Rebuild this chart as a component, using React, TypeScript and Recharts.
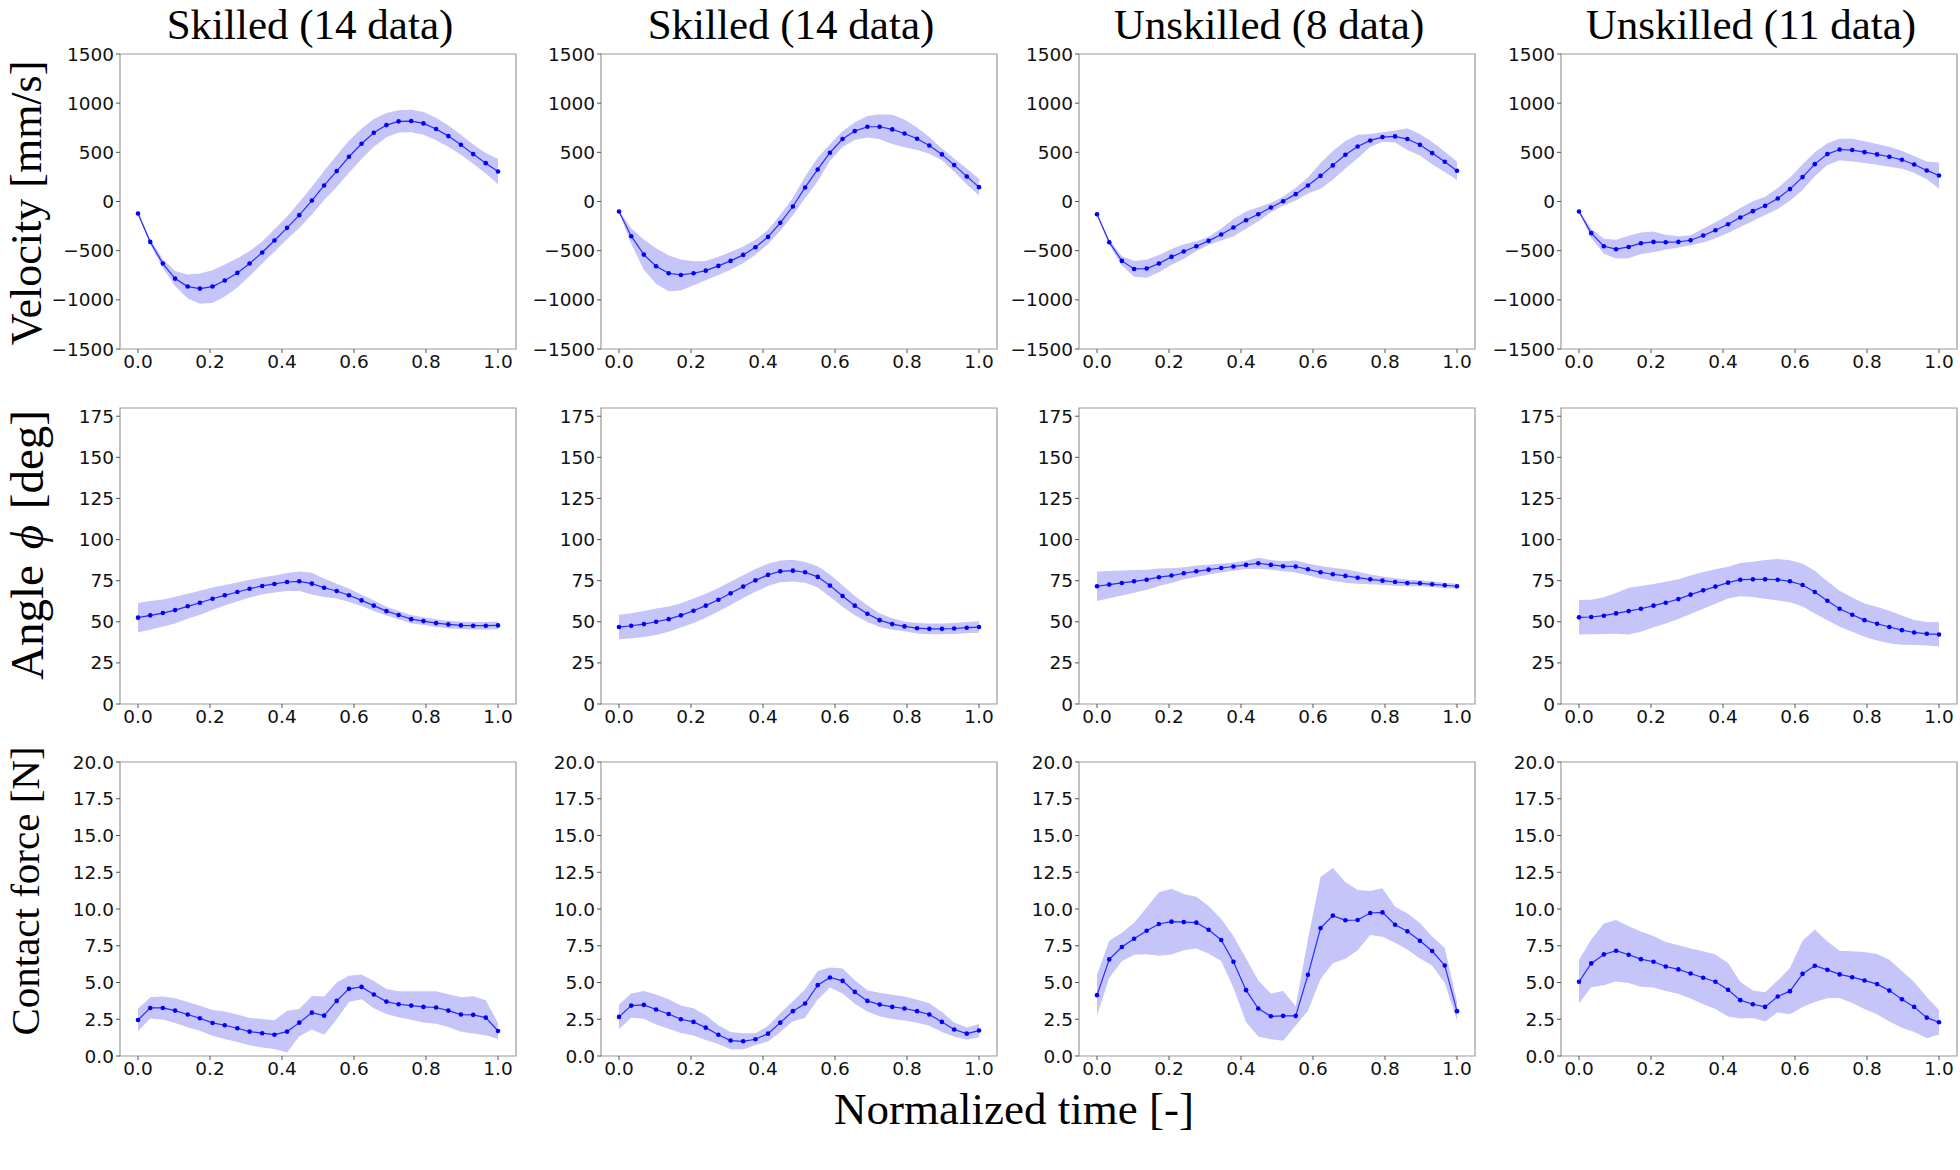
import React from "react";
import { ComposedChart, Area, Line, XAxis, YAxis, ReferenceArea } from "recharts";

// normalized time samples (30 points)
const TIME = [
  0, 0.034, 0.069, 0.103, 0.138, 0.172, 0.207, 0.241, 0.276, 0.31,
  0.345, 0.379, 0.414, 0.448, 0.483, 0.517, 0.552, 0.586, 0.621, 0.655,
  0.69, 0.724, 0.759, 0.793, 0.828, 0.862, 0.897, 0.931, 0.966, 1.0,
];

const X_TICKS = [0, 0.2, 0.4, 0.6, 0.8, 1.0];
const VEL_TICKS = [-1500, -1000, -500, 0, 500, 1000, 1500];
const ANGLE_TICKS = [0, 25, 50, 75, 100, 125, 150, 175];
const FORCE_TICKS = [0, 2.5, 5, 7.5, 10, 12.5, 15, 17.5, 20];

const COLUMN_TITLES = ["Skilled (14 data)", "Skilled (14 data)", "Unskilled (8 data)", "Unskilled (11 data)"];

// Velocity [mm/s]
const VEL_SK1_MEAN = [-122, -411, -631, -784, -865, -886, -865, -804, -726, -631, -519, -397, -268, -139, 10, 163, 309, 455, 587, 699, 777, 815, 818, 794, 737, 665, 577, 482, 390, 305];
const VEL_SK1_SD = [15, 25, 45, 76, 122, 154, 166, 163, 148, 127, 112, 114, 115, 131, 141, 149, 161, 163, 156, 141, 124, 114, 114, 115, 114, 107, 102, 98, 104, 129];
const VEL_SK2_MEAN = [-102, -353, -540, -658, -730, -747, -730, -703, -655, -604, -543, -465, -360, -217, -51, 143, 326, 496, 635, 716, 760, 760, 733, 692, 638, 570, 479, 370, 255, 146];
const VEL_SK2_SD = [7, 80, 153, 182, 182, 158, 122, 97, 92, 90, 85, 76, 73, 81, 88, 110, 119, 85, 80, 90, 110, 127, 148, 141, 114, 85, 59, 68, 81, 85];
const VEL_UN8_MEAN = [-129, -414, -604, -686, -682, -631, -563, -509, -455, -400, -336, -265, -190, -129, -61, 3, 75, 163, 261, 367, 475, 560, 621, 655, 662, 635, 577, 492, 404, 312];
const VEL_UN8_SD = [10, 25, 48, 80, 93, 88, 81, 75, 51, 41, 61, 88, 88, 71, 48, 46, 64, 81, 131, 146, 139, 119, 66, 48, 61, 110, 110, 112, 104, 93];
const VEL_UN11_MEAN = [-102, -322, -455, -485, -462, -424, -411, -414, -411, -394, -346, -292, -231, -163, -98, -44, 31, 126, 248, 380, 482, 529, 523, 502, 479, 455, 424, 377, 316, 265];
const VEL_UN11_SD = [10, 48, 76, 95, 114, 110, 105, 75, 58, 51, 71, 81, 90, 97, 100, 93, 107, 119, 132, 122, 110, 109, 115, 110, 105, 102, 92, 85, 90, 132];

// Angle phi [deg]
const ANG_SK1_MEAN = [52.5, 53.9, 55.3, 57.1, 59.4, 61.6, 64.0, 66.1, 68.1, 70.1, 71.8, 73.0, 74.2, 74.6, 73.2, 70.7, 68.7, 66.1, 63.0, 59.8, 56.5, 54.1, 51.6, 50.4, 49.2, 48.4, 47.8, 47.6, 47.6, 47.8];
const ANG_SK1_SD = [8.9, 8.7, 8.2, 8.1, 7.6, 7.3, 6.9, 6.2, 5.8, 5.4, 5.1, 5.2, 5.5, 5.9, 6.6, 5.6, 4.5, 4.1, 3.4, 3.3, 2.7, 2.5, 2.5, 2.4, 2.4, 2.3, 2.2, 2.3, 2.3, 2.3];
const ANG_SK2_MEAN = [46.8, 47.6, 48.6, 50.0, 51.6, 53.9, 56.7, 59.8, 63.4, 67.3, 71.4, 75.2, 78.5, 80.7, 81.1, 80.1, 77.3, 72.0, 65.7, 59.8, 54.9, 51.0, 48.6, 47.2, 46.1, 45.7, 45.7, 45.9, 46.4, 46.8];
const ANG_SK2_SD = [7.4, 7.6, 7.9, 8.0, 7.7, 7.4, 7.5, 7.3, 7.1, 7.1, 6.9, 6.9, 6.8, 6.6, 6.6, 6.3, 6.4, 6.8, 6.5, 5.9, 5.1, 4.1, 3.5, 3.0, 3.2, 3.3, 3.3, 3.3, 3.4, 3.5];
const ANG_UN8_MEAN = [71.6, 72.6, 73.6, 74.6, 75.6, 77.1, 78.1, 79.5, 80.7, 81.7, 82.7, 83.6, 84.6, 85.6, 84.6, 83.8, 83.6, 81.9, 80.1, 78.9, 77.9, 76.8, 75.8, 75.0, 74.2, 73.6, 73.4, 72.8, 72.2, 71.6];
const ANG_UN8_SD = [8.9, 8.3, 7.6, 6.9, 6.1, 5.3, 4.5, 3.7, 3.5, 3.0, 2.8, 2.5, 2.5, 3.3, 3.0, 3.0, 3.6, 3.6, 3.8, 4.0, 4.1, 3.6, 3.0, 2.5, 2.3, 2.0, 1.8, 1.7, 1.6, 1.5];
const ANG_UN11_MEAN = [52.7, 52.9, 53.7, 55.1, 56.5, 57.9, 59.8, 61.6, 63.8, 66.5, 69.1, 71.4, 73.8, 75.6, 75.8, 75.8, 75.6, 74.6, 72.4, 68.1, 62.8, 57.9, 54.3, 51.0, 48.8, 46.8, 44.9, 43.5, 42.7, 42.3];
const ANG_UN11_SD = [10.5, 10.5, 11.2, 12.4, 14.2, 13.9, 13.2, 12.7, 12.1, 11.7, 11.2, 10.5, 9.7, 10.1, 10.7, 11.8, 12.6, 12.8, 13.1, 13.0, 11.9, 10.9, 10.4, 10.1, 10.2, 9.9, 8.9, 7.6, 7.2, 7.4];

// Contact force [N]
const FRC_SK1_MEAN = [2.45, 3.27, 3.27, 3.09, 2.82, 2.57, 2.25, 2.09, 1.89, 1.66, 1.55, 1.45, 1.66, 2.27, 2.95, 2.75, 3.75, 4.57, 4.7, 4.18, 3.7, 3.52, 3.43, 3.34, 3.3, 3.09, 2.82, 2.8, 2.61, 1.7];
const FRC_SK1_SD = [0.76, 0.72, 0.78, 0.84, 0.86, 0.85, 0.88, 0.93, 0.93, 0.93, 0.97, 0.98, 1.42, 0.93, 1.14, 1.3, 1.25, 0.89, 0.84, 0.93, 0.85, 0.88, 0.97, 1.06, 1.11, 1.11, 1.17, 1.27, 1.19, 0.55];
const FRC_SK2_MEAN = [2.66, 3.43, 3.48, 3.16, 2.86, 2.5, 2.32, 1.93, 1.45, 1.05, 1.0, 1.14, 1.52, 2.27, 3.05, 3.57, 4.82, 5.34, 5.11, 4.36, 3.75, 3.5, 3.34, 3.23, 3.05, 2.82, 2.32, 1.8, 1.52, 1.73];
const FRC_SK2_SD = [0.84, 0.83, 0.94, 1.02, 1.0, 0.93, 0.93, 0.85, 0.64, 0.59, 0.55, 0.4, 0.53, 0.63, 0.68, 0.97, 0.97, 0.68, 0.85, 0.8, 0.73, 0.8, 0.83, 0.82, 0.78, 0.76, 0.68, 0.48, 0.42, 0.45];
const FRC_UN8_MEAN = [4.14, 6.57, 7.41, 7.98, 8.52, 8.98, 9.14, 9.11, 9.07, 8.59, 7.89, 6.41, 4.48, 3.23, 2.7, 2.73, 2.73, 5.52, 8.7, 9.55, 9.23, 9.25, 9.73, 9.77, 8.93, 8.48, 7.84, 7.14, 6.16, 3.05];
const FRC_UN8_SD = [1.39, 1.27, 0.97, 1.09, 1.59, 2.16, 2.23, 1.91, 1.76, 1.61, 1.43, 1.76, 2.16, 1.9, 1.56, 1.7, 0.66, 2.44, 3.47, 3.24, 2.61, 2.05, 1.5, 1.65, 1.23, 1.23, 1.2, 0.99, 1.19, 0.63];
const FRC_UN11_MEAN = [5.05, 6.3, 6.91, 7.16, 6.89, 6.59, 6.41, 6.09, 5.89, 5.61, 5.32, 5.05, 4.5, 3.8, 3.52, 3.34, 4.05, 4.41, 5.59, 6.14, 5.86, 5.55, 5.36, 5.14, 4.89, 4.45, 3.86, 3.34, 2.61, 2.3];
const FRC_UN11_SD = [1.48, 1.63, 2.1, 2.1, 1.93, 1.88, 1.75, 1.66, 1.65, 1.7, 1.8, 1.85, 1.82, 1.25, 0.94, 1.0, 1.08, 1.57, 2.25, 2.47, 1.93, 1.61, 1.76, 1.94, 2.05, 2.1, 1.93, 1.7, 1.4, 0.83];

const PLOT_LEFTS = [120, 601, 1079, 1561];
const PLOT_W = 396;
const Y_AXIS_W = 80;
const X_AXIS_H = 36;
const TOP_PAD = 14;

const fmtInt = (v: number) => (v < 0 ? "\u2212" + Math.abs(v) : String(v));
const fmtOne = (v: number) => v.toFixed(1);

const ROWS = [
  {
    label: "velocity",
    domain: [-1500, 1500],
    ticks: VEL_TICKS,
    fmt: fmtInt,
    top: 54,
    height: 295,
    series: [
      [VEL_SK1_MEAN, VEL_SK1_SD],
      [VEL_SK2_MEAN, VEL_SK2_SD],
      [VEL_UN8_MEAN, VEL_UN8_SD],
      [VEL_UN11_MEAN, VEL_UN11_SD],
    ],
  },
  {
    label: "angle",
    domain: [0, 180],
    ticks: ANGLE_TICKS,
    fmt: fmtInt,
    top: 408,
    height: 296,
    series: [
      [ANG_SK1_MEAN, ANG_SK1_SD],
      [ANG_SK2_MEAN, ANG_SK2_SD],
      [ANG_UN8_MEAN, ANG_UN8_SD],
      [ANG_UN11_MEAN, ANG_UN11_SD],
    ],
  },
  {
    label: "force",
    domain: [0, 20],
    ticks: FORCE_TICKS,
    fmt: fmtOne,
    top: 762,
    height: 294,
    series: [
      [FRC_SK1_MEAN, FRC_SK1_SD],
      [FRC_SK2_MEAN, FRC_SK2_SD],
      [FRC_UN8_MEAN, FRC_UN8_SD],
      [FRC_UN11_MEAN, FRC_UN11_SD],
    ],
  },
];

const tickStyle = { fontSize: 18.5, fill: "#111", fontFamily: "DejaVu Sans" };

const Panel = ({ mean, sd, row, left }: any) => {
  const data = TIME.map((t, i) => ({
    t,
    mean: mean[i],
    band: [mean[i] - sd[i], mean[i] + sd[i]],
  }));
  const [lo, hi] = row.domain;

  return (
    <div
      style={{
        position: "absolute",
        left: left - Y_AXIS_W,
        top: row.top - TOP_PAD,
        fontFamily: "DejaVu Sans",
      }}
    >
      <ComposedChart
        width={Y_AXIS_W + PLOT_W + 6}
        height={TOP_PAD + row.height + X_AXIS_H}
        data={data}
        margin={{ top: TOP_PAD, right: 6, left: 0, bottom: 0 }}
      >
        <XAxis
          dataKey="t"
          type="number"
          domain={[-0.05, 1.05]}
          ticks={X_TICKS}
          tickFormatter={fmtOne}
          allowDataOverflow
          height={X_AXIS_H}
          axisLine={false}
          tickSize={4}
          tickLine={{ stroke: "#555" }}
          tick={tickStyle}
          interval={0}
        />
        <YAxis
          type="number"
          domain={[lo, hi]}
          ticks={row.ticks}
          tickFormatter={row.fmt}
          allowDataOverflow
          width={Y_AXIS_W}
          axisLine={false}
          tickSize={4}
          tickLine={{ stroke: "#555" }}
          tick={tickStyle}
          interval={0}
        />
        <Area
          type="linear"
          dataKey="band"
          stroke="none"
          fill="#c5c5fa"
          fillOpacity={1}
          isAnimationActive={false}
          activeDot={false}
        />
        <Line
          type="linear"
          dataKey="mean"
          stroke="#2a2aff"
          strokeWidth={1.2}
          dot={{ r: 2.3, fill: "#0000ff", stroke: "none" }}
          activeDot={false}
          isAnimationActive={false}
        />
        <ReferenceArea
          x1={-0.05}
          x2={1.05}
          y1={lo}
          y2={hi}
          fill="none"
          stroke="#999"
          strokeWidth={1.2}
          ifOverflow="visible"
        />
      </ComposedChart>
    </div>
  );
};

const serif = "Liberation Serif, Times New Roman, serif";

export default function App() {
  return (
    <div
      style={{
        position: "absolute",
        left: 0,
        top: 0,
        width: 1960,
        height: 1170,
        background: "#fff",
        overflow: "hidden",
      }}
    >
      {ROWS.map((row) =>
        row.series.map(([mean, sd], c) => (
          <Panel key={row.label + c} mean={mean} sd={sd} row={row} left={PLOT_LEFTS[c]} />
        ))
      )}
      <svg
        width={1960}
        height={1170}
        style={{ position: "absolute", left: 0, top: 0, pointerEvents: "none" }}
      >
        {COLUMN_TITLES.map((title, c) => (
          <text
            key={c}
            x={PLOT_LEFTS[c] + PLOT_W / 2 - 8}
            y={39}
            textAnchor="middle"
            fontFamily={serif}
            fontSize={43}
            fill="#000"
          >
            {title}
          </text>
        ))}
        <text
          transform="translate(41,203) rotate(-90)"
          textAnchor="middle"
          fontFamily={serif}
          fontSize={44}
          fill="#000"
        >
          Velocity [mm/s]
        </text>
        <text
          transform="translate(43,545) rotate(-90)"
          textAnchor="middle"
          fontFamily={serif}
          fontSize={47}
          fill="#000"
        >
          Angle <tspan fontStyle="italic" dx={4}>ϕ</tspan>
          <tspan dx={4}> [deg]</tspan>
        </text>
        <text
          transform="translate(39,891) rotate(-90)"
          textAnchor="middle"
          fontFamily={serif}
          fontSize={41}
          fill="#000"
        >
          Contact force [N]
        </text>
        <text
          x={1014}
          y={1124}
          textAnchor="middle"
          fontFamily={serif}
          fontSize={45}
          fill="#000"
        >
          Normalized time [-]
        </text>
      </svg>
    </div>
  );
}
